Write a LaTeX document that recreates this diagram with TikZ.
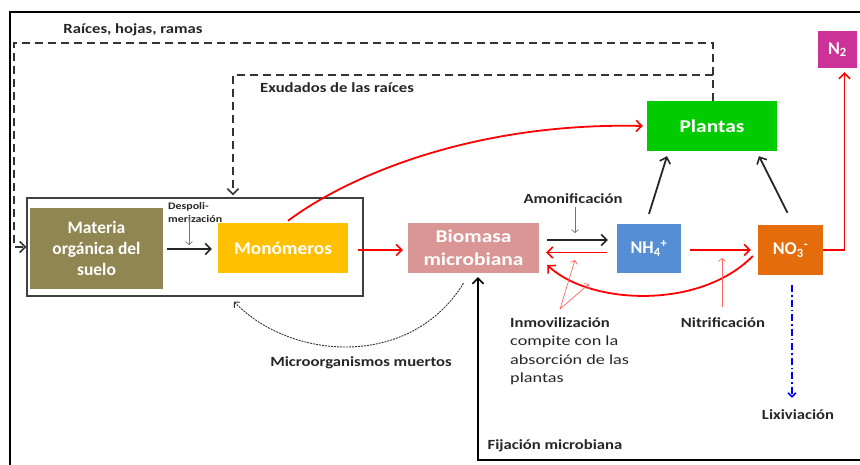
\documentclass[tikz,border=0pt]{standalone}
\usepackage{fontspec}
\setmainfont{Carlito}
\newfontfamily\wideA[FakeStretch=1.19]{Carlito}
\newfontfamily\wideB[FakeStretch=1.3]{Carlito}
\newfontfamily\wideC[FakeStretch=1.07]{Carlito}
\usetikzlibrary{arrows.meta,calc}
\definecolor{olivebox}{RGB}{143,134,82}
\definecolor{amberbox}{RGB}{255,192,0}
\definecolor{pinkbox}{RGB}{217,150,148}
\definecolor{bluebox}{RGB}{85,142,213}
\definecolor{orangebox}{RGB}{228,108,10}
\definecolor{greenbox}{RGB}{0,204,0}
\definecolor{magbox}{RGB}{204,51,153}
\definecolor{txt}{RGB}{38,38,38}
\tikzset{
  box/.style={draw=none,inner sep=0pt,text=white,font=\fontsize{18}{21}\selectfont\bfseries,align=center},
  lbl/.style={text=txt,font=\wideA\fontsize{14}{16}\selectfont\bfseries,inner sep=0pt},
  tip/.style={-{Straight Barb[length=5.5pt,width=11pt,line width=1.6pt]}},
  blk/.style={tip,line width=1.8pt,draw=black!85},
  rd/.style={tip,line width=1.8pt,draw=red},
  thinred/.style={-{Straight Barb[length=3pt,width=7pt]},line width=0.7pt,draw=red!60},
  thingray/.style={-{Straight Barb[length=3pt,width=7pt]},line width=0.7pt,draw=black!55},
  dsh/.style={tip,line width=2pt,draw=black!80,dash pattern=on 8pt off 5pt},
}
\begin{document}
\begin{tikzpicture}[x=1pt,y=-1pt]
\useasboundingbox (0,0) rectangle (860,465);
\fill[white] (0,0) rectangle (860,465);
% frame
\draw[line width=1.6pt,black] (10,465) -- (10,12) -- (860,12);

% nodes
\node[draw=black!75,line width=1.3pt,fill=white,minimum width=336pt,minimum height=98pt,inner sep=0pt] (big) at (195,247) {};
\node[box,fill=olivebox,minimum width=133pt,minimum height=81pt,font=\fontsize{17.5}{21}\selectfont\bfseries] (mat) at (96.5,248.5) {Materia\\orgánica del\\suelo};
\node[box,fill=amberbox,minimum width=130pt,minimum height=50pt,font=\wideC\fontsize{18}{21}\selectfont\bfseries] (mon) at (283,248) {Monómeros};
\node[box,fill=pinkbox,minimum width=131pt,minimum height=50pt,font=\wideA\fontsize{18}{23}\selectfont\bfseries] (bio) at (473.5,248) {Biomasa\\microbiana};
\node[box,fill=bluebox,minimum width=64pt,minimum height=49pt] (nh4) at (649,248.5) {NH\textsubscript{4}\textsuperscript{+}};
\node[box,fill=orangebox,minimum width=65pt,minimum height=50pt] (no3) at (790.5,250) {NO\textsubscript{3}\textsuperscript{-}};
\node[box,fill=greenbox,minimum width=130pt,minimum height=50pt,font=\wideA\fontsize{18}{21}\selectfont\bfseries] (pl) at (712,126) {Plantas};
\node[box,fill=magbox,minimum width=39pt,minimum height=37pt,font=\fontsize{18}{20}\selectfont\bfseries] (n2) at (837.5,49.5) {N\textsubscript{2}};

% labels
\node[lbl] (rhr) at (133,30) {Raíces, hojas, ramas};
\node[lbl] (exu) at (337,88) {Exudados de las raíces};
\node[lbl,font=\wideA\fontsize{10}{13}\selectfont\bfseries,align=left,anchor=north west] (desp) at (168,202.5) {Despoli-\\merización};
\node[lbl] (amo) at (573,199) {Amonificación};
\node[lbl] (mm) at (361,363) {Microorganismos muertos};
\node[lbl,anchor=west] (inm) at (510,323) {Inmovilización};
\node[lbl,font=\wideB\fontsize{14}{18.5}\selectfont,align=left,anchor=north west] (comp) at (510,336) {compite con la\\absorción de las\\plantas};
\node[lbl] (nit) at (723,323) {Nitrificación};
\node[lbl] (fij) at (555,446) {Fijación microbiana};
\node[lbl] (lix) at (798,415) {Lixiviación};

% coordinates for free ends
\coordinate (inmv) at (560,309);
\coordinate (inmA) at (575,260);
\coordinate (inmB) at (589,284);
\coordinate (nitv) at (722,307);
\coordinate (nitA) at (722,258);
\coordinate (amov) at (575,207);
\coordinate (amoA) at (575,233);
\coordinate (despv) at (189,219);
\coordinate (despA) at (189,245);
\coordinate (fixstart) at (860,460);
\coordinate (outtop) at (713,43);
\coordinate (outleft) at (14,43);
\coordinate (inntop) at (713,75);
\coordinate (innleft) at (233,75);

% dashed arrows
\draw[dsh] ($(pl.north)+(1,0)$) -- (outtop) -- (outleft) |- (big.west);
\draw[dsh] (inntop) -- (innleft) -- ($(big.north)+(38,-2)$);

% black arrows
\draw[blk] ($(mat.east)+(4,0.5)$) -- ($(mon.west)+(-6,1)$);
\draw[blk] ($(bio.east)+(8,-8)$) -- ($(nh4.west)+(-9,-8.5)$);
\draw[blk] ($(nh4.north)+(0,-10)$) -- ($(pl.south)+(-45,5)$);
\draw[blk] ($(no3.north)+(-3,-12)$) -- ($(pl.south)+(47,5)$);
\draw[blk,draw=black] (fixstart) -| ($(bio.south)+(4.5,4)$);

% red arrows
\draw[rd] ($(mon.east)+(10,2)$) -- ($(bio.west)+(-5,2)$);
\draw[rd] ($(nh4.west)+(-10,4)$) -- ($(bio.east)+(7,4.5)$);
\draw[rd] ($(nh4.east)+(9,1.5)$) -- ($(no3.west)+(-7,0)$);
\draw[rd] (no3.east) -| ($(n2.south)+(7,4)$);
\draw[rd] ($(mon.north)+(5,-2)$) .. controls (345,178) and (470,122) .. ($(pl.west)+(-4,0)$);
\draw[rd] ($(no3.west)+(-5,6)$) .. controls (700,310) and (590,305) .. ($(bio.east)+(8,17)$);

% thin arrows
\draw[thinred] (inmv) -- (inmA);
\draw[thinred] (inmv) -- (inmB);
\draw[thinred] (nitv) -- (nitA);
\draw[thingray] (amov) -- (amoA);
\draw[thingray] (despv) -- (despA);

% dead microorganisms
\draw[-{Straight Barb[length=4pt,width=8pt]},line width=0.9pt,draw=black!80,dash pattern=on 2pt off 1pt]
  ($(bio.south)+(-10,10)$) .. controls (410,370) and (290,360) .. ($(big.south)+(39,5)$);

% leaching
\draw[-{Straight Barb[length=4pt,width=8pt,line width=1.5pt]},line width=1.6pt,draw=blue,dash pattern=on 7pt off 3pt on 1.5pt off 3pt]
  ($(no3.south)+(1.5,10)$) -- ($(lix.north)+(-6,-12)$);
\end{tikzpicture}
\end{document}
